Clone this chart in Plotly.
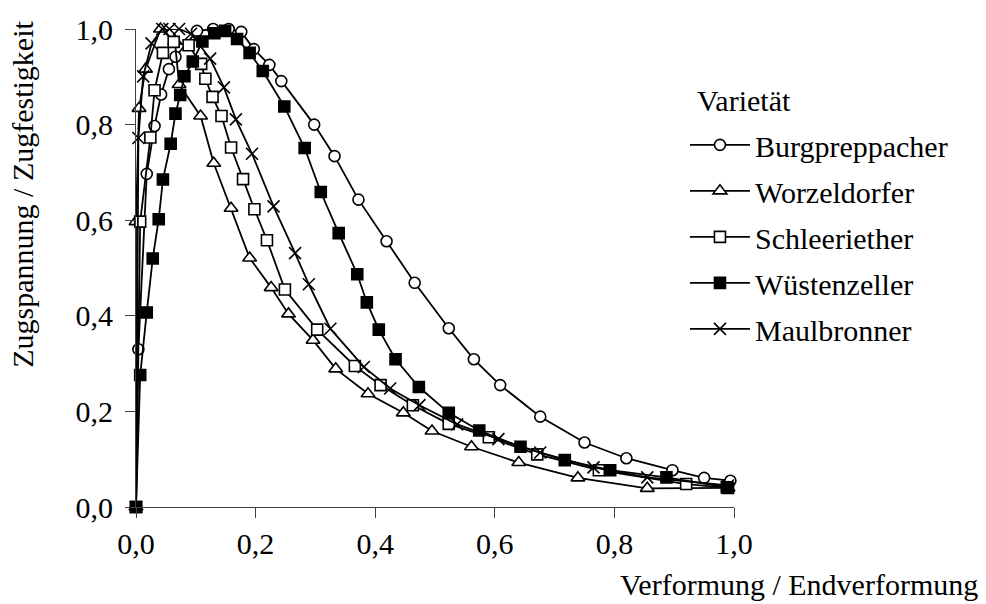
import plotly.graph_objects as go

# Normalised tensile curves: strain / final strain vs. stress / tensile strength
burg_x = [0.0, 0.004, 0.018, 0.031, 0.042, 0.055, 0.066, 0.102, 0.129, 0.155, 0.176,
          0.197, 0.223, 0.243, 0.298, 0.332, 0.372, 0.419, 0.466, 0.523, 0.565, 0.609,
          0.676, 0.750, 0.820, 0.897, 0.950, 0.994]
burg_y = [0.0, 0.330, 0.697, 0.797, 0.863, 0.916, 0.942, 0.996, 1.0, 1.0, 0.994,
          0.958, 0.925, 0.891, 0.800, 0.734, 0.643, 0.556, 0.469, 0.374, 0.309, 0.255,
          0.189, 0.135, 0.102, 0.077, 0.061, 0.055]

worz_x = [0.0, 0.0, 0.005, 0.016, 0.041, 0.065, 0.072, 0.108, 0.130, 0.159, 0.190,
          0.226, 0.255, 0.296, 0.334, 0.388, 0.447, 0.495, 0.561, 0.640, 0.739, 0.855, 0.99]
worz_y = [0.0, 0.597, 0.834, 0.916, 1.0, 0.975, 0.884, 0.818, 0.719, 0.625, 0.521,
          0.459, 0.404, 0.349, 0.289, 0.237, 0.197, 0.159, 0.126, 0.093, 0.061, 0.039, 0.040]

schl_x = [0.0, 0.007, 0.024, 0.031, 0.045, 0.063, 0.088, 0.109, 0.116, 0.128, 0.143,
          0.159, 0.179, 0.198, 0.219, 0.249, 0.303, 0.366, 0.409, 0.463, 0.523, 0.590,
          0.671, 0.774, 0.920, 0.99]
schl_y = [0.0, 0.597, 0.773, 0.872, 0.950, 0.973, 0.966, 0.927, 0.896, 0.858, 0.818,
          0.752, 0.686, 0.623, 0.558, 0.455, 0.371, 0.295, 0.255, 0.213, 0.174, 0.146,
          0.110, 0.077, 0.048, 0.040]

wues_x = [0.0, 0.007, 0.018, 0.028, 0.038, 0.045, 0.058, 0.066, 0.074, 0.081, 0.095,
          0.111, 0.131, 0.149, 0.169, 0.190, 0.212, 0.248, 0.282, 0.309, 0.339, 0.370,
          0.386, 0.406, 0.434, 0.473, 0.523, 0.574, 0.643, 0.717, 0.793, 0.887, 0.988]
wues_y = [0.0, 0.276, 0.407, 0.520, 0.602, 0.685, 0.760, 0.823, 0.862, 0.901, 0.932,
          0.974, 0.991, 0.996, 0.979, 0.950, 0.912, 0.838, 0.751, 0.659, 0.573, 0.487,
          0.428, 0.371, 0.309, 0.251, 0.197, 0.160, 0.126, 0.098, 0.077, 0.062, 0.041]

maul_x = [0.0, 0.004, 0.012, 0.026, 0.044, 0.056, 0.072, 0.092, 0.124, 0.147, 0.167,
          0.194, 0.230, 0.266, 0.289, 0.325, 0.381, 0.425, 0.474, 0.537, 0.606, 0.676,
          0.765, 0.855, 0.99]
maul_y = [0.0, 0.772, 0.901, 0.970, 1.0, 1.0, 1.0, 0.990, 0.938, 0.878, 0.811,
          0.739, 0.629, 0.531, 0.466, 0.373, 0.293, 0.248, 0.213, 0.173, 0.142, 0.114,
          0.083, 0.062, 0.045]

x_ticks = [0.0, 0.2, 0.4, 0.6, 0.8, 1.0]
y_ticks = [0.0, 0.2, 0.4, 0.6, 0.8, 1.0]

SERIF = "Liberation Serif, Times New Roman, serif"
FS = 30

series = [
    ("Burgpreppacher", burg_x, burg_y, "circle", "white", 11),
    ("Worzeldorfer", worz_x, worz_y, "triangle-up", "white", 12),
    ("Schleeriether", schl_x, schl_y, "square", "white", 11),
    ("Wüstenzeller", wues_x, wues_y, "square", "black", 11),
    ("Maulbronner", maul_x, maul_y, "x-thin", "black", 12),
]

fig = go.Figure()
for name, xs, ys, sym, fill, size in series:
    fig.add_trace(go.Scatter(
        x=xs, y=ys, name=name, mode="lines+markers",
        legendgroup=name,
        line=dict(color="black", width=1.8),
        marker=dict(symbol=sym, size=size, color=fill,
                    line=dict(color="black", width=1.6)),
        cliponaxis=False,
    ))

axis_common = dict(
    range=[0, 1], showgrid=False, zeroline=False, showline=True,
    linecolor="#404040", linewidth=1.2, ticks="outside", ticklen=10,
    tickcolor="#404040", tickwidth=1.2, tickformat=".1f",
    tickfont=dict(family=SERIF, size=FS, color="black"),
)

fig.update_layout(
    width=986, height=604,
    margin=dict(l=136, r=252, t=23, b=97),
    paper_bgcolor="white", plot_bgcolor="white",
    separators=", ",
    font=dict(family=SERIF, size=FS, color="black"),
    xaxis=dict(tickvals=x_ticks, **axis_common),
    yaxis=dict(tickvals=y_ticks, ticklabelstandoff=6, **axis_common),
    showlegend=True,
    legend=dict(
        x=0.918, y=0.812, xanchor="left", yanchor="top",
        bgcolor="rgba(0,0,0,0)", borderwidth=0,
        font=dict(family=SERIF, size=FS, color="black"),
        tracegroupgap=4, itemwidth=60,
    ),
    annotations=[
        dict(text="Varietät",
             xref="paper", yref="paper", x=(695 - 136) / 598, y=(507 - 95) / 484,
             xanchor="left", yanchor="middle", showarrow=False,
             font=dict(family=SERIF, size=FS)),
        dict(text="Zugspannung / Zugfestigkeit", textangle=-90,
             xref="paper", yref="paper", x=-0.19, y=0.654,
             xanchor="center", yanchor="middle", showarrow=False,
             font=dict(family=SERIF, size=FS)),
        dict(text="Verformung / Endverformung",
             xref="paper", yref="paper", x=1.412, y=-0.162,
             xanchor="right", yanchor="middle", showarrow=False,
             font=dict(family=SERIF, size=FS)),
    ],
)

fig.write_html("out.html")
